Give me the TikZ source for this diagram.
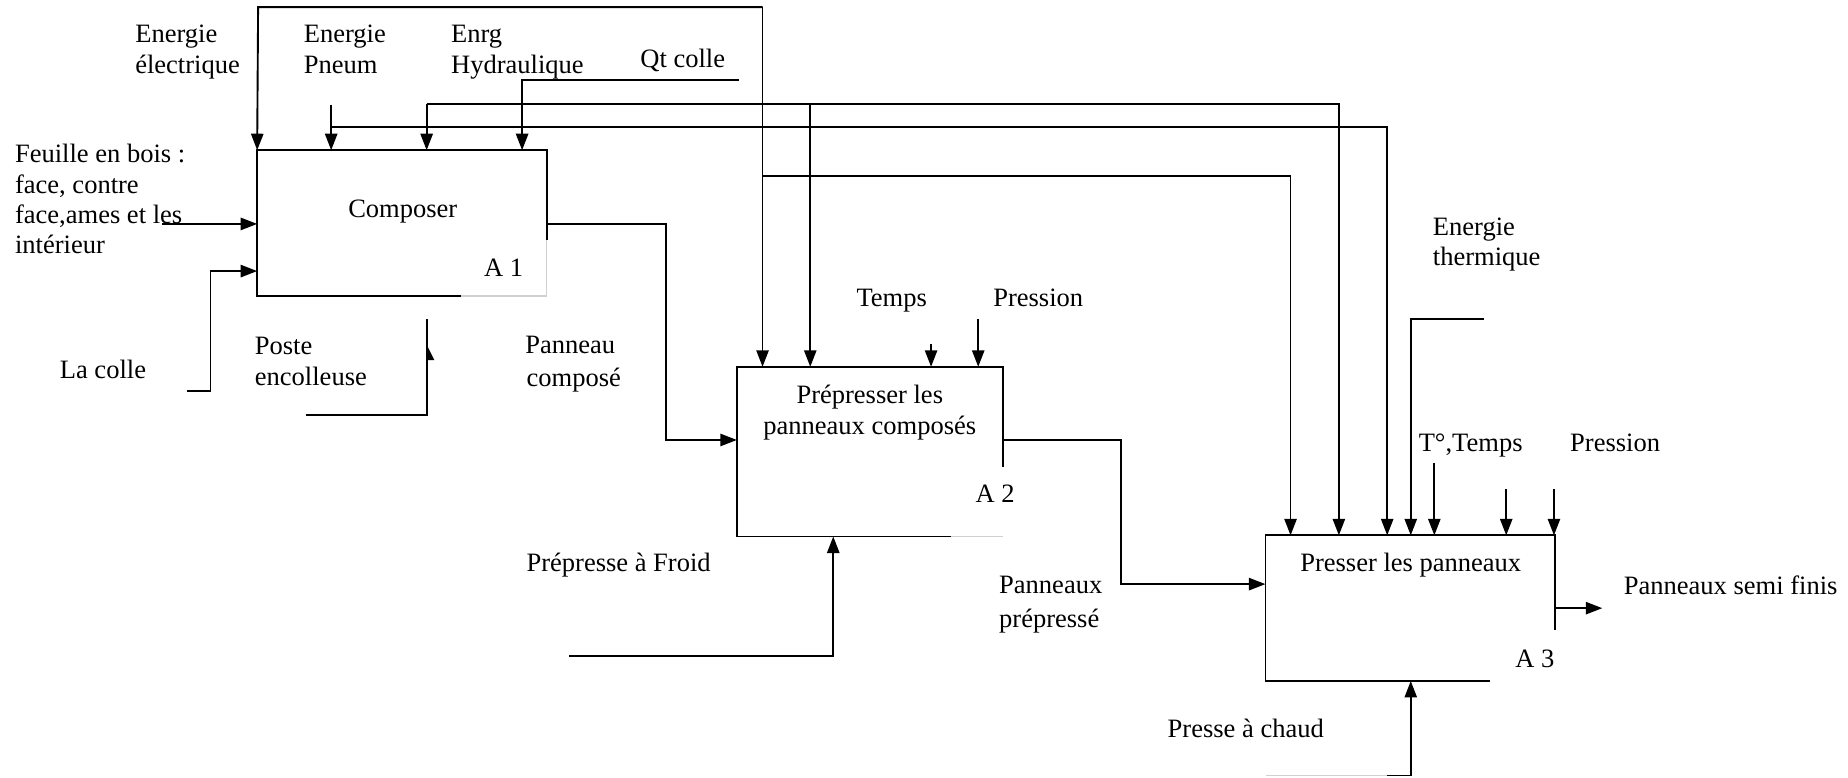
\documentclass[tikz,border=0pt]{standalone}
\usepackage{fontspec}
\setmainfont{Liberation Serif}
\usetikzlibrary{arrows.meta,calc}
\begin{document}
\begin{tikzpicture}[x=0.5pt,y=-0.5pt,line width=0.8pt,
  arr/.style={-{Triangle[length=7pt,width=5.2pt]}},
  faint/.style={draw=black!18,line width=0.6pt},
  lbl/.style={anchor=base west,inner sep=0pt,font=\fontsize{11.25}{13}\selectfont},
  lblc/.style={lbl,anchor=base},
  boxnode/.style={draw=none,inner sep=0pt}]
\useasboundingbox (0,0) rectangle (1568,660);

% activity boxes
\node[boxnode,minimum width=122pt,minimum height=61pt] (A1) at (341,189.25) {};
\node[boxnode,minimum width=112pt,minimum height=71.2pt] (A2) at (738,383.2) {};
\node[boxnode,minimum width=122pt,minimum height=61pt] (A3) at (1196.5,516) {};

\draw ($(A1.south west)+(173,0)$) -- (A1.south west) -- (A1.north west) -- (A1.north east) -- ($(A1.north east)+(0,76)$);
\draw[faint] ($(A1.south west)+(173,0)$) -- (A1.south east) -- ($(A1.north east)+(0,76)$);
\draw ($(A2.south west)+(182,0)$) -- (A2.south west) -- (A2.north west) -- (A2.north east) -- ($(A2.north east)+(0,85)$);
\draw[faint] ($(A2.south west)+(182,0)$) -- (A2.south east);
\draw ($(A3.south west)+(190.5,0)$) -- (A3.south west) -- (A3.north west) -- (A3.north east) -- ($(A3.north east)+(0,80)$);

% top loop (energie electrique)
\coordinate (t1) at (219,6);
\coordinate (t2) at (647,6);
\coordinate (b1) at (647,149);
\coordinate (b2) at (1095,149);
\draw[arr] (t2) -- (t1) -- (A1.north west);
\draw[arr] (t2) -- (t2 |- A2.north);
\draw[arr] (b1) -- (b2) -- (b2 |- A3.north);

% Qt colle
\coordinate (qc) at (627,68);
\coordinate (qc2) at (443,68);
\draw[arr] (qc) -- (qc2) -- (qc2 |- A1.north);

% Hydraulique
\coordinate (h1) at (362,88);
\coordinate (h2) at (1136,88);
\coordinate (h3) at (687.5,88);
\draw[arr] (h1) -- (h1 |- A1.north);
\draw[arr] (h1) -- (h2) -- (h2 |- A3.north);
\draw[arr] (h3) -- (h3 |- A2.north);

% Pneum
\coordinate (p1) at (281,89);
\coordinate (p2) at (281,108);
\coordinate (p3) at (1177,108);
\draw[arr] (p1) -- (p1 |- A1.north);
\draw[arr] (p2) -- (p3) -- (p3 |- A3.north);

% inputs of A1
\coordinate (f1) at (137.8,190);
\draw[arr] (f1) -- (f1 -| A1.west);
\coordinate (c1) at (159,332);
\coordinate (c2) at (178.6,332);
\coordinate (c3) at (178.6,230);
\draw[arr] (c1) -- (c2) -- (c3) -- (c3 -| A1.west);

% Poste encolleuse
\coordinate (e1) at (260,352.4);
\coordinate (e2) at (362,352.4);
\coordinate (e3) at (362,271);
\draw (e1) -- (e2) -- (e3);
\fill (362,292.5) -- (362,305.5) -- (368.5,305.5) -- cycle;

% A1 -> A2
\coordinate (o1) at (565,190);
\coordinate (o2) at (565,373.3);
\draw[arr] (o1 -| A1.east) -- (o1) -- (o2) -- (o2 -| A2.west);

% A2 -> A3
\coordinate (q1) at (951.4,373.5);
\coordinate (q2) at (951.4,495.6);
\draw[arr] (q1 -| A2.east) -- (q1) -- (q2) -- (q2 -| A3.west);

% A2 controls and mechanism
\coordinate (tm) at (790,292);
\draw[arr] (tm) -- (tm |- A2.north);
\coordinate (pr) at (830,271);
\draw[arr] (pr) -- (pr |- A2.north);
\coordinate (m1) at (483,556.5);
\coordinate (m2) at (707,556.5);
\draw[arr] (m1) -- (m2) -- (m2 |- A2.south);

% A3 controls, output, mechanism
\coordinate (et1) at (1259,271);
\coordinate (et2) at (1197,271);
\draw[arr] (et1) -- (et2) -- (et2 |- A3.north);
\coordinate (tt) at (1217,393);
\draw[arr] (tt) -- (tt |- A3.north);
\coordinate (pa) at (1278,415);
\draw[arr] (pa) -- (pa |- A3.north);
\coordinate (pb) at (1318.5,415);
\draw[arr] (pb) -- (pb |- A3.north);
\coordinate (out) at (1359.5,516);
\draw[arr] (out -| A3.east) -- (out);
\coordinate (n1) at (1074.5,658);
\coordinate (n2) at (1177,658);
\coordinate (n3) at (1197,658);
\draw[faint] (n1) -- (n2);
\draw[arr] (n2) -- (n3) -- (n3 |- A3.south);

% labels
\node[lbl] (l1a) at (114,36) {Energie};
\node[lbl] (l1b) at (114,62.5) {électrique};
\node[lbl] (l2a) at (257,36) {Energie};
\node[lbl] (l2b) at (257,62.5) {Pneum};
\node[lbl] (l3a) at (382,36) {Enrg};
\node[lbl] (l3b) at (382,62.5) {Hydraulique};
\node[lbl] (l4) at (542.6,57.4) {Qt colle};
\node[lbl] (l5a) at (12,138) {Feuille en bois :};
\node[lbl] (l5b) at (12,163.8) {face, contre};
\node[lbl] (l5c) at (12,189.6) {face,ames et les};
\node[lbl] (l5d) at (12,215.4) {intérieur};
\node[lbl] (l6) at (294.7,184.5) {Composer};
\node[lbl] (l7) at (410,234.7) {A 1};
\node[lbl] (l8a) at (215.5,300.7) {Poste};
\node[lbl] (l8b) at (215.5,327) {encolleuse};
\node[lbl] (l9) at (50,321.3) {La colle};
\node[lbl] (l10a) at (445,300) {Panneau};
\node[lbl] (l10b) at (446,328) {composé};
\node[lbl] (l11a) at (726,260) {Temps};
\node[lbl] (l11b) at (842,260) {Pression};
\node[lblc] (l12a) at (738,342) {Prépresser les};
\node[lblc] (l12b) at (738,368.8) {panneaux composés};
\node[lbl] (l13) at (827,426) {A 2};
\node[lbl] (l14) at (446,484.5) {Prépresse à Froid};
\node[lbl] (l15a) at (847,503.7) {Panneaux};
\node[lbl] (l15b) at (847,532) {prépressé};
\node[lbl] (l16a) at (1215,199.4) {Energie};
\node[lbl] (l16b) at (1215,225) {thermique};
\node[lbl] (l17a) at (1203,382.8) {T°,Temps};
\node[lbl] (l17b) at (1331.5,382.8) {Pression};
\node[lbl] (l18) at (1102.5,484.7) {Presser les panneaux};
\node[lbl] (l19) at (1377,504.8) {Panneaux semi finis};
\node[lbl] (l20) at (1285,566) {A 3};
\node[lbl] (l21) at (990,626) {Presse à chaud};
\end{tikzpicture}
\end{document}
